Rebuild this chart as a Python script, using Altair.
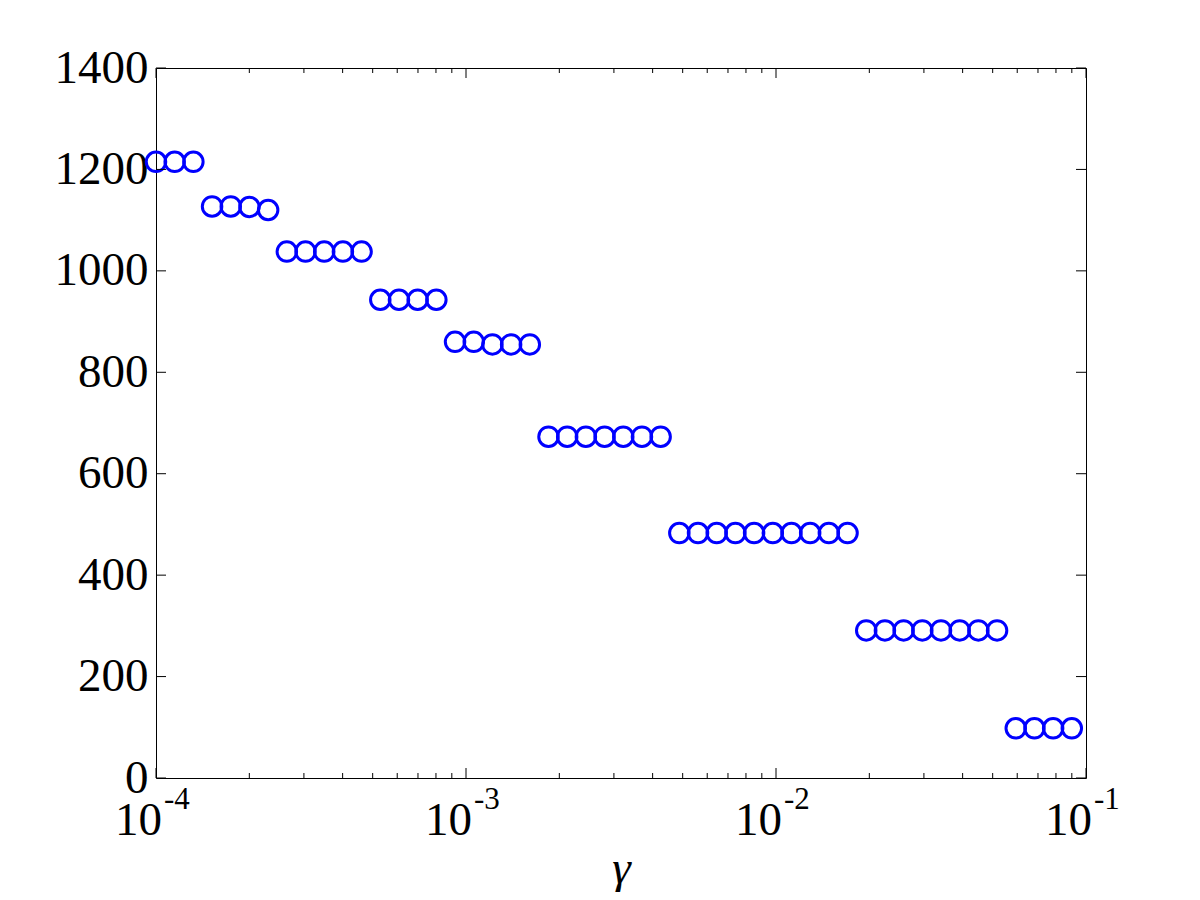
import altair as alt
import pandas as pd

# gamma values (x)
gamma = [
    1.0000e-4, 1.1489e-4, 1.3200e-4, 1.5166e-4, 1.7425e-4, 2.0019e-4, 2.3001e-4,
    2.6426e-4, 3.0362e-4, 3.4884e-4, 4.0079e-4, 4.6048e-4, 5.2906e-4, 6.0785e-4,
    6.9838e-4, 8.0238e-4, 9.2187e-4, 1.0592e-3, 1.2169e-3, 1.3981e-3, 1.6064e-3,
    1.8456e-3, 2.1204e-3, 2.4362e-3, 2.7990e-3, 3.2159e-3, 3.6948e-3, 4.2450e-3,
    4.8772e-3, 5.6036e-3, 6.4381e-3, 7.3969e-3, 8.4985e-3, 9.7641e-3, 1.1218e-2,
    1.2889e-2, 1.4808e-2, 1.7014e-2, 1.9547e-2, 2.2458e-2, 2.5803e-2, 2.9645e-2,
    3.4060e-2, 3.9133e-2, 4.4961e-2, 5.1656e-2, 5.9349e-2, 6.8187e-2, 7.8342e-2,
    9.0000e-2,
]
values = [
    1215, 1215, 1215,
    1127, 1127, 1126, 1120,
    1038, 1038, 1038, 1038, 1038,
    943, 943, 943, 943,
    860, 860, 855, 855, 855,
    673, 673, 673, 673, 673, 673, 673,
    483, 483, 483, 483, 483, 483, 483, 483, 483, 483,
    291, 291, 291, 291, 291, 291, 291, 291,
    98, 98, 98, 98,
]

x_major = [1e-4, 1e-3, 1e-2, 1e-1]
x_base = ["10", "10", "10", "10"]
x_exp = ["-4", "-3", "-2", "-1"]
x_minor = [
    2e-4, 3e-4, 4e-4, 5e-4, 6e-4, 7e-4, 8e-4, 9e-4,
    2e-3, 3e-3, 4e-3, 5e-3, 6e-3, 7e-3, 8e-3, 9e-3,
    2e-2, 3e-2, 4e-2, 5e-2, 6e-2, 7e-2, 8e-2, 9e-2,
]
y_ticks = [0, 200, 400, 600, 800, 1000, 1200, 1400]

W, H = 930, 710
FONT = "Liberation Serif"
FS = 47

xscale = alt.Scale(type="log", domain=[1e-4, 1e-1], nice=False)
yscale = alt.Scale(domain=[0, 1400], nice=False)

xaxis = alt.Axis(labels=False, ticks=False, tickSize=0, domain=False, grid=False,
                 title="γ", titleFont=FONT, titleFontSize=FS,
                 titleFontStyle="italic", titleFontWeight="normal",
                 titleColor="black", titleBaseline="alphabetic",
                 titleX=W / 2, titleY=104)
yaxis = alt.Axis(values=y_ticks, format="d", ticks=False, tickSize=0, domain=False,
                 grid=False, labelFont=FONT, labelFontSize=FS, labelColor="black",
                 labelPadding=8, title="")

df = pd.DataFrame({"gamma": gamma, "value": values})
dmaj = pd.DataFrame({"v": x_major, "base": x_base, "exp": x_exp})
dmin = pd.DataFrame({"v": x_minor})
dy = pd.DataFrame({"v": y_ticks})

points = alt.Chart(df).mark_point(
    shape="circle", filled=False, size=380, strokeWidth=3, color="#0000ff", opacity=1
).encode(
    x=alt.X("gamma:Q", scale=xscale, axis=xaxis),
    y=alt.Y("value:Q", scale=yscale, axis=yaxis),
)

def xrule(data, y0, y1):
    return alt.Chart(data).mark_rule(color="black", strokeWidth=1).encode(
        x=alt.X("v:Q", scale=xscale, axis=xaxis),
        y=alt.value(y0), y2=alt.value(y1),
    )

def yrule(x0, x1):
    return alt.Chart(dy).mark_rule(color="black", strokeWidth=1).encode(
        y=alt.Y("v:Q", scale=yscale, axis=yaxis),
        x=alt.value(x0), x2=alt.value(x1),
    )

ticks = [
    xrule(dmaj, H, H - 10), xrule(dmaj, 0, 10),
    xrule(dmin, H, H - 5), xrule(dmin, 0, 5),
    yrule(0, 10), yrule(W - 10, W),
]

base_labels = alt.Chart(dmaj).mark_text(
    align="right", baseline="alphabetic", dx=6, font=FONT, fontSize=FS, color="black"
).encode(x=alt.X("v:Q", scale=xscale, axis=xaxis), y=alt.value(H + 57), text="base:N")

exp_labels = alt.Chart(dmaj).mark_text(
    align="left", baseline="alphabetic", dx=8, font=FONT, fontSize=31, color="black"
).encode(x=alt.X("v:Q", scale=xscale, axis=xaxis), y=alt.value(H + 31), text="exp:N")

chart = alt.layer(points, *ticks, base_labels, exp_labels).properties(
    width=W, height=H,
    autosize=alt.AutoSizeParams(type="none"),
    padding={"left": 148, "top": 60, "right": 100, "bottom": 114},
).configure_view(stroke="black", strokeWidth=1)

chart.save("out.html", embed_options={"renderer": "svg", "actions": False})
